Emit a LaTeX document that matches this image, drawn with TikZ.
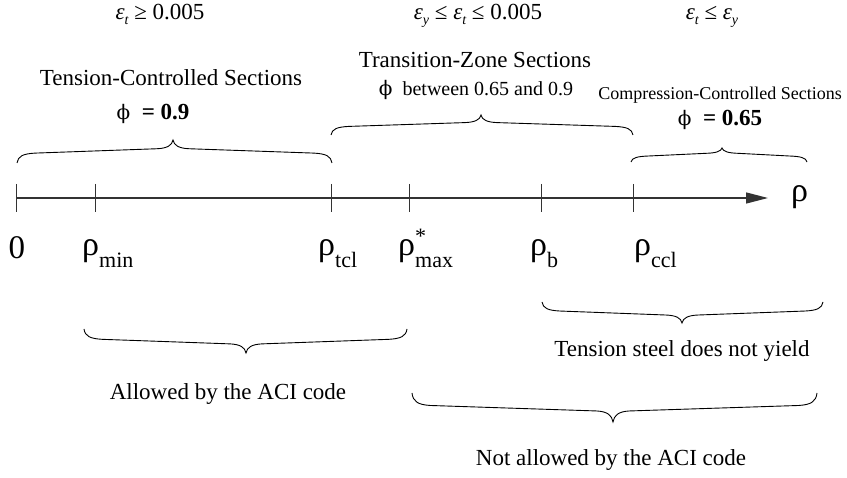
\documentclass[tikz,border=0pt]{standalone}
\usepackage{fontspec}
\setmainfont{Liberation Serif}
\newfontfamily\phifont{DejaVu Serif}
\usetikzlibrary{arrows.meta}

% sizes
\newcommand\fs[1]{\fontsize{#1}{#1}\selectfont}
% epsilon with an italic subscript
\newcommand\epsub[1]{{\itshape ε}\raisebox{-5pt}{\fs{14}\itshape #1}}
% upright phi
\newcommand\phisym{{\phifont\fs{20}ϕ}}
% rho with a subscript
\newcommand\rhosub[1]{{\fs{34}ρ}\raisebox{-12pt}{\fs{22}#1}}

% curly brace: left x, right x, cusp x, tip y, cusp y
\newcommand\curly[5]{%
  \pgfmathsetmacro\dd{(#5)-(#4)}%
  \draw[curlyline]
    (#1,#4) .. controls (#1+1,{#4+0.3*\dd}) and (#1+6,{#4+0.4*\dd}) .. (#1+18,{#4+0.43*\dd})
    -- (#3-16,{#4+0.62*\dd}) .. controls (#3-6,{#4+0.64*\dd}) and (#3-1,{#4+0.76*\dd}) .. (#3,#5)
    .. controls (#3+1,{#4+0.76*\dd}) and (#3+6,{#4+0.64*\dd}) .. (#3+16,{#4+0.62*\dd})
    -- (#2-18,{#4+0.43*\dd}) .. controls (#2-6,{#4+0.4*\dd}) and (#2-1,{#4+0.3*\dd}) .. (#2,#4);
}

\tikzset{
  axisline/.style={line width=1.3pt, draw=black!80},
  tickmark/.style={line width=1pt, draw=black!80},
  curlyline/.style={line width=0.9pt, draw=black},
  txt/.style={inner sep=0pt, anchor=base, font=\fs{23}},
  small/.style={inner sep=0pt, anchor=base, font=\fs{18}},
  axlbl/.style={inner sep=0pt, anchor=base west},
}

\begin{document}
\begin{tikzpicture}[x=1pt, y=-1pt]
\useasboundingbox (0,0) rectangle (847,478);

% strain limits
\node[txt] (e1) at (160,20) {\epsub{t} ≥ 0.005};
\node[txt] (e2) at (478,20) {\epsub{y} ≤ \epsub{t} ≤ 0.005};
\node[txt] (e3) at (712,20) {\epsub{t} ≤ \epsub{y}};

% section zones
\node[txt] (tc) at (171,86) {Tension-Controlled Sections};
\node[txt] (tcphi) at (153,120) {\phisym\ \ \textbf{= 0.9}};
\node[txt] (tz) at (475,68) {Transition-Zone Sections};
\node[txt, font=\fs{20}] (tzphi) at (476,96) {\phisym\ \ between 0.65 and 0.9};
\node[small] (cc) at (720,100) {Compression-Controlled Sections};
\node[txt] (ccphi) at (720,126) {\phisym\ \ \textbf{= 0.65}};

% braces above the axis
\curly{17}{332}{173}{163}{140}
\curly{331}{633}{481}{135}{115}
\curly{631}{807}{722}{162}{148}

% axis
\coordinate (o) at (16,198);
\coordinate (tip) at (768,198);
\draw[axisline, -{Triangle[length=22pt,width=11pt]}] (o) -- (tip);
\foreach \n/\x in {t0/16, tmin/95, ttcl/331, tmax/409, tb/541, tccl/633}
  \draw[tickmark] (\x,184) coordinate (\n) -- (\x,212);
\node[inner sep=0pt, anchor=west, font=\fs{34}] (rho) at (791,197) {ρ};

% axis labels
\node[inner sep=0pt, anchor=base, font=\fs{33}] (l0) at (17,259) {0};
\node[axlbl] (lmin) at (82,256) {\rhosub{min}};
\node[axlbl] (ltcl) at (318,256) {\rhosub{tcl}};
\node[axlbl] (lmax) at (398,256) {{\fs{34}ρ}\makebox[0pt][l]{\raisebox{12pt}{\fs{22}*}}\raisebox{-12pt}{\fs{22}max}};
\node[axlbl] (lb) at (530,256) {\rhosub{b}};
\node[axlbl] (lccl) at (634,256) {\rhosub{ccl}};

% braces below the axis
\curly{542}{823}{682}{302}{323}
\node[txt] (ny) at (682,357) {Tension steel does not yield};
\curly{84}{407}{246}{329}{353}
\node[txt] (al) at (228,400) {Allowed by the ACI code};
\curly{412}{817}{613}{393}{422}
\node[txt] (na) at (611,466) {Not allowed by the ACI code};
\end{tikzpicture}
\end{document}
